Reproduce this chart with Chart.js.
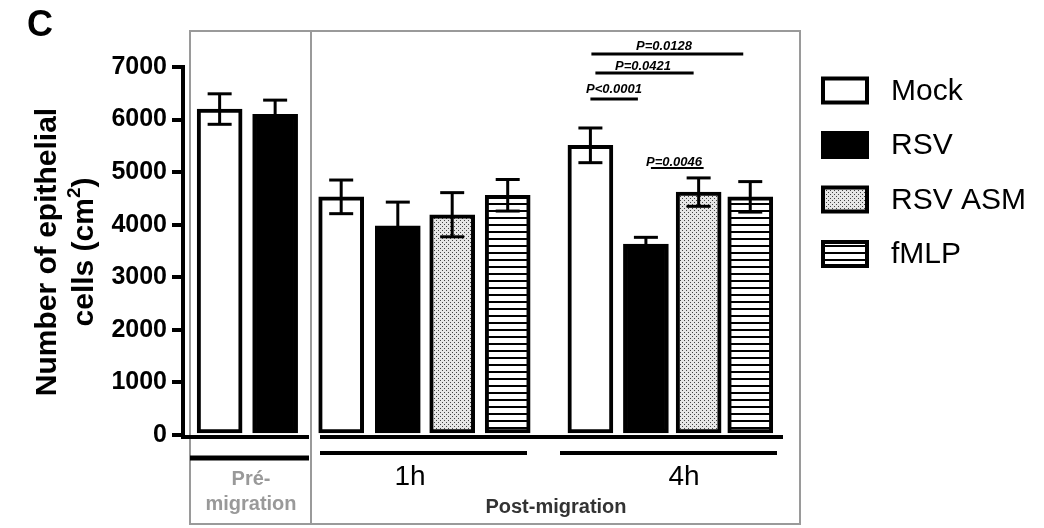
<!DOCTYPE html>
<html>
<head>
<meta charset="utf-8">
<script src="https://cdn.jsdelivr.net/npm/chart.js@4.4.1/dist/chart.umd.min.js"></script>
<style>
  html, body { margin: 0; padding: 0; background: #fff; }
  #wrap { width: 1044px; height: 528px; }
</style>
</head>
<body>
<div id="wrap"><canvas id="barChart" width="1044" height="528"></canvas></div>
<script>
const series = ['Mock', 'RSV', 'RSV ASM', 'fMLP'];
const timepoints = ['Pré-migration', '1h', '4h'];

// mean epithelial cells per cm2 : pre-migration, 1h, 4h
const mock = [6200, 4530, 5510];
const rsv = [6100, 3980, 3630];
const rsvAsm = [null, 4190, 4620];
const fmlp = [null, 4560, 4530];

// error bars (same order)
const mockErr = [290, 320, 330];
const rsvErr = [270, 450, 130];
const rsvAsmErr = [null, 420, 270];
const fmlpErr = [null, 300, 290];

const yTicks = [0, 1000, 2000, 3000, 4000, 5000, 6000, 7000];
const pLabels = ['P=0.0128', 'P=0.0421', 'P<0.0001', 'P=0.0046'];

// where each bar sits along the x axis (timepoint x series)
const slotX = [
  [0, 1, null, null],
  [2.19, 3.21, 4.19, 5.19],
  [6.68, 7.68, 8.63, 9.56]
];

const FONT = '"Liberation Sans", Arial, sans-serif';

function dotPattern() {
  const c = document.createElement('canvas');
  c.width = 4; c.height = 4;
  const g = c.getContext('2d');
  g.fillStyle = '#e6e6e6';
  g.fillRect(0, 0, 4, 4);
  g.fillStyle = '#444';
  g.fillRect(0, 0, 1, 1);
  g.fillRect(2, 2, 1, 1);
  return g.createPattern(c, 'repeat');
}

function stripePattern() {
  const c = document.createElement('canvas');
  c.width = 8; c.height = 7;
  const g = c.getContext('2d');
  g.fillStyle = '#fff';
  g.fillRect(0, 0, 8, 7);
  g.fillStyle = '#000';
  g.fillRect(0, 0, 8, 2);
  return g.createPattern(c, 'repeat');
}

const values = [mock, rsv, rsvAsm, fmlp];
const errors = [mockErr, rsvErr, rsvAsmErr, fmlpErr];
const fills = ['#ffffff', '#000000', dotPattern(), stripePattern()];

function points(s) {
  const out = [];
  values[s].forEach((v, t) => {
    if (v !== null) out.push({ x: slotX[t][s], y: v, err: errors[s][t] });
  });
  return out;
}

const datasets = series.map((name, s) => ({
  label: name,
  data: points(s),
  backgroundColor: fills[s],
  borderColor: '#000',
  borderWidth: 4,
  borderSkipped: false,
  barThickness: 45,
  grouped: false
}));

function line(ctx, x1, y1, x2, y2, w, color) {
  ctx.beginPath();
  ctx.lineWidth = w;
  ctx.strokeStyle = color || '#000';
  ctx.moveTo(x1, y1);
  ctx.lineTo(x2, y2);
  ctx.stroke();
}

const decorations = {
  id: 'decorations',
  afterDatasetsDraw(chart) {
    const ctx = chart.ctx;
    const y = chart.scales.y;
    ctx.save();
    chart.data.datasets.forEach((ds, i) => {
      chart.getDatasetMeta(i).data.forEach((bar, j) => {
        const p = ds.data[j];
        const top = y.getPixelForValue(p.y + p.err);
        const bot = y.getPixelForValue(p.y - p.err);
        line(ctx, bar.x, top, bar.x, bot, 3);
        line(ctx, bar.x - 12, top, bar.x + 12, top, 3);
        line(ctx, bar.x - 12, bot, bar.x + 12, bot, 3);
      });
    });
    ctx.restore();
  },
  afterDraw(chart) {
    const ctx = chart.ctx;
    const y = chart.scales.y;
    const y0 = y.getPixelForValue(0) + 2;
    ctx.save();

    // panel letter
    ctx.fillStyle = '#000';
    ctx.font = 'bold 36px ' + FONT;
    ctx.textAlign = 'left';
    ctx.textBaseline = 'alphabetic';
    ctx.fillText('C', 27, 36);

    // y title
    ctx.save();
    ctx.translate(56, 252);
    ctx.rotate(-Math.PI / 2);
    ctx.textAlign = 'center';
    ctx.font = 'bold 30px ' + FONT;
    ctx.fillText('Number of epithelial', 0, 0);
    const a = 'cells (cm', b = '2', c = ')';
    const wa = ctx.measureText(a).width, wc = ctx.measureText(c).width;
    ctx.font = 'bold 19px ' + FONT;
    const wb = ctx.measureText(b).width;
    const start = -(wa + wb + wc) / 2;
    ctx.textAlign = 'left';
    ctx.font = 'bold 30px ' + FONT;
    ctx.fillText(a, start, 37);
    ctx.fillText(c, start + wa + wb, 37);
    ctx.font = 'bold 19px ' + FONT;
    ctx.fillText(b, start + wa, 24);
    ctx.restore();

    // panel boxes
    ctx.strokeStyle = '#9a9a9a';
    ctx.lineWidth = 2;
    ctx.strokeRect(190, 31, 121, 493);
    ctx.strokeRect(311, 31, 489, 493);

    // broken x axis
    line(ctx, 181, y0, 309, y0, 4);
    line(ctx, 320, y0, 783, y0, 4);

    // group underlines
    line(ctx, 190, 458, 309, 458, 5);
    line(ctx, 320, 453, 527, 453, 4);
    line(ctx, 560, 453, 777, 453, 4);

    // group labels
    ctx.textAlign = 'center';
    ctx.fillStyle = '#999';
    ctx.font = 'bold 20px ' + FONT;
    const pre = timepoints[0].split('-');
    ctx.fillText(pre[0] + '-', 251, 485);
    ctx.fillText(pre[1], 251, 510);
    ctx.fillStyle = '#000';
    ctx.font = '28px ' + FONT;
    ctx.fillText(timepoints[1], 410, 485);
    ctx.fillText(timepoints[2], 684, 485);
    ctx.fillStyle = '#333';
    ctx.font = 'bold 20px ' + FONT;
    ctx.fillText('Post-migration', 556, 513);

    // significance brackets (4h bars = last bar of each series)
    const bx = i => {
      const d = chart.getDatasetMeta(i).data;
      return d[d.length - 1].x;
    };
    ctx.fillStyle = '#000';
    ctx.font = 'italic bold 13px ' + FONT;
    ctx.fillText(pLabels[0], 664, 50);
    line(ctx, bx(0) + 1, 54, bx(3) - 7, 54, 3);
    ctx.fillText(pLabels[1], 643, 70);
    line(ctx, bx(0) + 5, 73, bx(2) - 5, 73, 3);
    ctx.fillText(pLabels[2], 614, 93);
    line(ctx, bx(0), 99, bx(1) - 8, 99, 3);
    ctx.fillText(pLabels[3], 674, 166);
    line(ctx, bx(1) + 5, 168, bx(2) + 5, 168, 2);

    // legend
    ctx.textAlign = 'left';
    ctx.textBaseline = 'middle';
    series.forEach((name, s) => {
      const cy = 90.5 + s * 54.5;
      ctx.fillStyle = fills[s];
      ctx.fillRect(823, cy - 12, 44, 24);
      ctx.strokeStyle = '#000';
      ctx.lineWidth = 4;
      ctx.strokeRect(823, cy - 12, 44, 24);
      ctx.fillStyle = '#000';
      ctx.font = '30px ' + FONT;
      ctx.fillText(name, 891, cy + 1);
    });
    ctx.restore();
  }
};

new Chart(document.getElementById('barChart'), {
  type: 'bar',
  data: { datasets: datasets },
  options: {
    responsive: false,
    animation: false,
    layout: { padding: { left: 0, right: 261, top: 67, bottom: 93 } },
    plugins: { legend: { display: false }, tooltip: { enabled: false } },
    scales: {
      x: {
        type: 'linear',
        display: false,
        offset: false,
        grid: { offset: false },
        min: -0.66,
        max: 10.15
      },
      y: {
        min: 0,
        max: 7000,
        afterFit(scale) { scale.width = 183; },
        afterBuildTicks(scale) { scale.ticks = yTicks.map(v => ({ value: v })); },
        ticks: {
          color: '#000',
          padding: 5,
          font: { family: FONT, size: 25, weight: 'bold' },
          callback: v => String(v)
        },
        grid: { drawOnChartArea: false, tickLength: 11, lineWidth: 4, color: '#000' },
        border: { width: 4, color: '#000' }
      }
    }
  },
  plugins: [decorations]
});
</script>
</body>
</html>
